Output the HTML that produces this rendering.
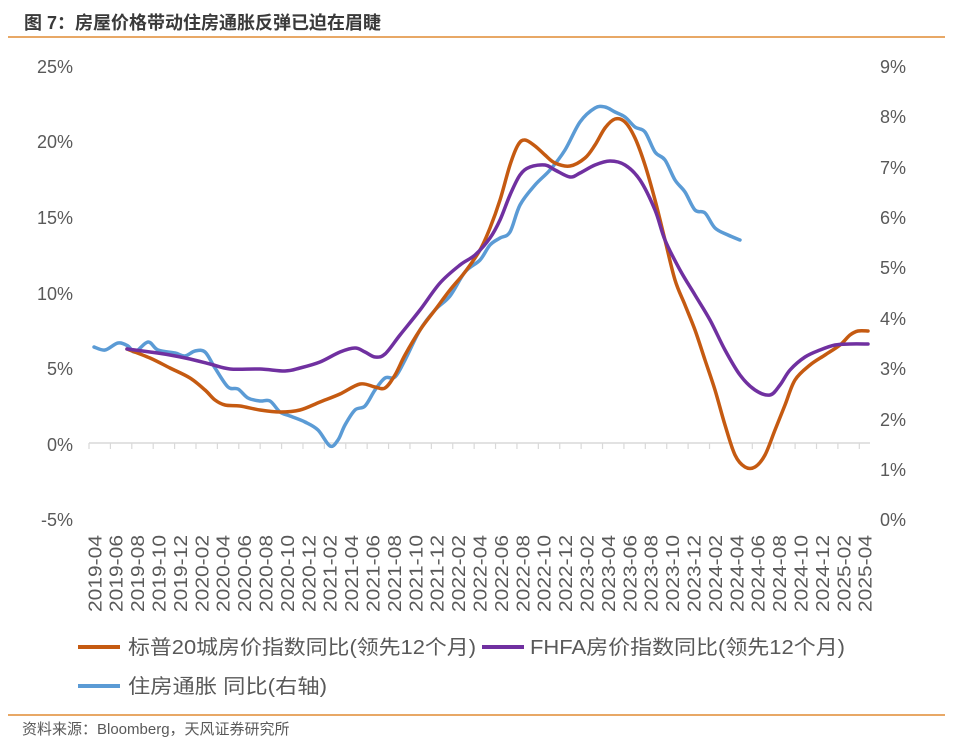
<!DOCTYPE html>
<html><head><meta charset="utf-8"><style>
body{margin:0;background:#fff;}
svg{display:block;font-family:"Liberation Sans","Noto Sans CJK SC",sans-serif;}
</style></head><body>
<svg id="s" width="960" height="749" viewBox="0 0 960 749" xmlns="http://www.w3.org/2000/svg">
<text x="24" y="29" font-size="18" font-weight="bold" fill="#3a3a3a">图 7：房屋价格带动住房通胀反弹已迫在眉睫</text>
<line x1="8" y1="37" x2="945" y2="37" stroke="#e8a866" stroke-width="2"/>
<g font-size="18" fill="#595959" text-anchor="end">
<text x="73" y="73">25%</text><text x="73" y="148">20%</text><text x="73" y="224">15%</text>
<text x="73" y="300">10%</text><text x="73" y="375">5%</text><text x="73" y="451">0%</text><text x="73" y="526">-5%</text>
</g>
<g font-size="18" fill="#595959">
<text x="880" y="73">9%</text><text x="880" y="123">8%</text><text x="880" y="174">7%</text>
<text x="880" y="224">6%</text><text x="880" y="274">5%</text><text x="880" y="325">4%</text>
<text x="880" y="375">3%</text><text x="880" y="426">2%</text><text x="880" y="476">1%</text><text x="880" y="526">0%</text>
</g>
<line x1="89" y1="443" x2="870" y2="443" stroke="#d9d9d9" stroke-width="1.5"/>
<g id="ticks" stroke="#d9d9d9" stroke-width="1.2"></g>
<g id="xl" font-size="18" fill="#595959"></g>
<path id="pb" fill="none" stroke="#5b9bd5" stroke-width="3.5" stroke-linejoin="round" stroke-linecap="round"/>
<path id="po" fill="none" stroke="#c55a11" stroke-width="3.5" stroke-linejoin="round" stroke-linecap="round"/>
<path id="pp" fill="none" stroke="#7030a0" stroke-width="3.5" stroke-linejoin="round" stroke-linecap="round"/>
<line x1="78" y1="647" x2="120" y2="647" stroke="#c55a11" stroke-width="4"/>
<text x="128" y="654" font-size="20" fill="#595959" textLength="348" lengthAdjust="spacingAndGlyphs">标普20城房价指数同比(领先12个月)</text>
<line x1="482" y1="647" x2="524" y2="647" stroke="#7030a0" stroke-width="4"/>
<text x="530" y="654" font-size="20" fill="#595959" textLength="315" lengthAdjust="spacingAndGlyphs">FHFA房价指数同比(领先12个月)</text>
<line x1="78" y1="686" x2="120" y2="686" stroke="#5b9bd5" stroke-width="4"/>
<text x="128" y="693" font-size="20" fill="#595959" textLength="199" lengthAdjust="spacingAndGlyphs">住房通胀 同比(右轴)</text>
<line x1="8" y1="715" x2="945" y2="715" stroke="#e8a866" stroke-width="2"/>
<text x="22" y="734" font-size="15" fill="#595959">资料来源：Bloomberg，天风证券研究所</text>
</svg>
<script>
var NS="http://www.w3.org/2000/svg";
var t=document.getElementById("ticks"),xl=document.getElementById("xl");
var w=781/73;
for(var i=0;i<=73;i+=2){var l=document.createElementNS(NS,"line");var x=89+w*i;l.setAttribute("x1",x);l.setAttribute("x2",x);l.setAttribute("y1",443);l.setAttribute("y2",449);t.appendChild(l);}
for(var i=0;i<73;i+=2){var y=2019,m=4+i;y+=Math.floor((m-1)/12);m=((m-1)%12)+1;var s=y+"-"+(m<10?"0"+m:m);var x=89+w*(i+0.5)+7;var e=document.createElementNS(NS,"text");e.setAttribute("transform","translate("+x+",535) rotate(-90)");e.setAttribute("text-anchor","end");e.setAttribute("textLength","77");e.setAttribute("lengthAdjust","spacingAndGlyphs");e.textContent=s;xl.appendChild(e);}
function sm(p){var d="M"+p[0][0]+","+p[0][1];for(var i=0;i<p.length-1;i++){var p0=p[i-1]||p[i],p1=p[i],p2=p[i+1],p3=p[i+2]||p2;d+=" C"+(p1[0]+(p2[0]-p0[0])/6)+","+(p1[1]+(p2[1]-p0[1])/6)+" "+(p2[0]-(p3[0]-p1[0])/6)+","+(p2[1]-(p3[1]-p1[1])/6)+" "+p2[0]+","+p2[1];}return d;}
var o=[[127,349],[150,358],[170,368],[190,378],[205,390],[215,400],[225,405],[240,406],[260,410],[280,412],[300,410],[320,402],[340,394],[360,384],[375,387],[385,388],[395,375],[405,355],[420,330],[435,310],[450,290],[465,272],[480,250],[490,228],[500,200],[510,165],[518,145],[525,140],[535,146],[545,155],[555,163],[570,166],[585,158],[595,145],[605,128],[615,119],[625,122],[635,138],[645,165],[655,200],[665,240],[675,280],[685,305],[695,330],[705,360],[715,390],[725,425],[735,455],[745,467],[755,467],[765,455],[775,430],[785,405],[795,380],[810,365],[825,355],[840,345],[850,335],[858,331],[868,331]];
var p=[[127,349],[150,352],[170,355],[190,359],[210,364],[230,369],[260,369],[285,371],[300,368],[320,362],[340,352],[355,348],[365,352],[375,357],[385,354],[400,335],[420,310],[440,283],[460,265],[475,255],[490,238],[500,220],[510,195],[520,175],[530,167],[545,165],[555,170],[570,177],[580,173],[595,165],[610,161],[625,165],[640,180],[655,210],[665,240],[680,270],[695,295],[710,320],[725,350],[740,375],[755,390],[770,395],[780,385],[790,370],[805,357],[820,350],[835,345],[850,344],[868,344]];
var b=[[94,347],[105,350],[118,343],[128,346],[135,352],[148,342],[158,350],[175,353],[185,356],[195,351],[205,352],[215,368],[228,387],[238,389],[248,398],[260,401],[270,401],[280,412],[290,416],[305,422],[318,430],[330,446],[338,440],[345,425],[355,410],[365,406],[375,390],[385,378],[395,377],[405,360],[420,330],[435,310],[450,296],[465,272],[480,260],[490,245],[500,238],[510,232],[520,205],[535,185],[550,170],[565,150],[580,122],[595,108],[605,107],[615,112],[625,117],[635,127],[645,132],[655,152],[665,160],[675,180],[685,192],[695,210],[705,213],[715,228],[728,235],[740,240]];
document.getElementById("po").setAttribute("d",sm(o));
document.getElementById("pp").setAttribute("d",sm(p));
document.getElementById("pb").setAttribute("d",sm(b));
</script>
</body></html>
